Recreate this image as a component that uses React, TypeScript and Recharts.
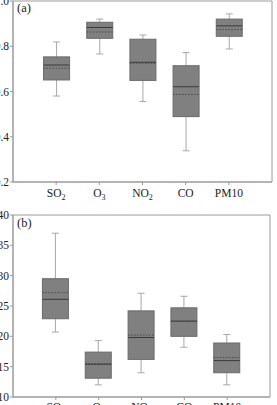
import {FunctionComponent} from 'react';
import {ComposedChart, Bar, XAxis, YAxis, ReferenceArea} from 'recharts';

// category labels, split into main text and subscript
const labelMain = ['SO', 'O', 'NO', 'CO', 'PM10'];
const labelSub = ['2', '3', '2', '', ''];
const positions = [1, 2, 3, 4, 5];

// panel (a)
const aMin = [0.58, 0.766, 0.556, 0.338, 0.788];
const aQ1 = [0.651, 0.835, 0.649, 0.489, 0.844];
const aMedian = [0.717, 0.883, 0.729, 0.621, 0.89];
const aMean = [0.703, 0.863, 0.725, 0.587, 0.874];
const aQ3 = [0.753, 0.906, 0.831, 0.714, 0.92];
const aMax = [0.819, 0.92, 0.85, 0.772, 0.943];
const aTicks = [0.2, 0.4, 0.6, 0.8, 1.0];

// panel (b)
const bMin = [20.7, 12.0, 14.0, 18.2, 12.0];
const bQ1 = [22.9, 13.1, 16.2, 20.0, 14.0];
const bMedian = [26.1, 15.4, 19.8, 22.5, 16.0];
const bMean = [27.2, 15.5, 20.2, 22.5, 16.5];
const bQ3 = [29.5, 17.4, 24.2, 24.7, 18.9];
const bMax = [37.0, 19.3, 27.1, 26.6, 20.3];
const bTicks = [10, 15, 20, 25, 30, 35, 40];

const serif = 'Liberation Serif, Times New Roman, Times, serif';
const frame = '#9a9a9a';

type Row = {pos: number; min: number; q1: number; median: number; mean: number; q3: number; max: number};

const rows = (mn: number[], q1: number[], md: number[], me: number[], q3: number[], mx: number[]): Row[] =>
  positions.map((pos, i) => ({pos, min: mn[i], q1: q1[i], median: md[i], mean: me[i], q3: q3[i], max: mx[i]}));

const PollutantTick = (props: any) => {
  const {x, y, payload, shift} = props;
  const i = positions.indexOf(payload.value);
  if (i < 0) return null;
  return (
    <text x={x} y={y} dy={shift} textAnchor="middle" fontFamily={serif} fontSize={11.5} fill="#222">
      {labelMain[i]}
      {labelSub[i] && <tspan fontSize={8} dy={2.5}>{labelSub[i]}</tspan>}
    </text>
  );
};

const BoxShape = (props: any) => {
  const {x, y, width, height, payload} = props;
  const {min, q1, median, mean, q3, max} = payload as Row;
  const top = Math.min(y, y + height);
  const bottom = Math.max(y, y + height);
  const py = (v: number) => bottom - ((v - min) / (max - min)) * (bottom - top);
  const cx = x + width / 2;
  const cap = 3.5;
  return (
    <g>
      <line x1={cx} x2={cx} y1={py(max)} y2={py(q3)} stroke="#a8a8a8" />
      <line x1={cx} x2={cx} y1={py(q1)} y2={py(min)} stroke="#a8a8a8" />
      <line x1={cx - cap} x2={cx + cap} y1={py(max)} y2={py(max)} stroke="#a8a8a8" />
      <line x1={cx - cap} x2={cx + cap} y1={py(min)} y2={py(min)} stroke="#a8a8a8" />
      <rect x={x} y={py(q3)} width={width} height={py(q1) - py(q3)} fill="#808080" stroke="#6a6a6a" />
      <line x1={x} x2={x + width} y1={py(median)} y2={py(median)} stroke="#3a3a3a" />
      <line x1={x} x2={x + width} y1={py(mean)} y2={py(mean)} stroke="#4a4a4a" strokeDasharray="1.5 1.5" />
    </g>
  );
};

const Panel = (p: {data: Row[]; domain: [number, number]; ticks: number[]; fmt: (v: number) => string; height: number; top: number; right: number; xTop: number; shift: number}) => (
  <ComposedChart width={307} height={p.height} data={p.data} margin={{top: p.top, right: p.right, bottom: 0, left: 0}}>
    <ReferenceArea x1={0} x2={6} y1={p.domain[0]} y2={p.domain[1]} fill="none" stroke={frame} strokeWidth={1} />
    <XAxis
      dataKey="pos"
      type="number"
      domain={[0, 6]}
      ticks={positions}
      height={p.xTop}
      tickSize={3}
      tickMargin={3}
      axisLine={{stroke: frame}}
      tickLine={{stroke: frame}}
      tick={<PollutantTick shift={p.shift} />}
      interval={0}
    />
    <YAxis
      type="number"
      domain={p.domain}
      ticks={p.ticks}
      width={43}
      tickSize={3}
      tickMargin={1}
      tickFormatter={p.fmt}
      axisLine={{stroke: frame}}
      tickLine={{stroke: frame}}
      tick={{fontFamily: serif, fontSize: 11.5, fill: '#222'}}
      interval={0}
    />
    <Bar dataKey={(d: Row) => [d.min, d.max]} barSize={26} shape={<BoxShape />} isAnimationActive={false} />
  </ComposedChart>
);

export default (() => (
  <div style={{position: 'fixed', left: 0, top: 0, width: 277, height: 405, overflow: 'hidden', background: '#fff'}}>
    <div style={{position: 'absolute', left: -30, top: 0}}>
      <Panel data={rows(aMin, aQ1, aMedian, aMean, aQ3, aMax)} domain={[0.2, 1.0]} ticks={aTicks}
        fmt={(v) => v.toFixed(1)} height={200} top={1} right={5} xTop={18} shift={9} />
    </div>
    <div style={{position: 'absolute', left: -30, top: 200}}>
      <Panel data={rows(bMin, bQ1, bMedian, bMean, bQ3, bMax)} domain={[10, 40]} ticks={bTicks}
        fmt={(v) => String(v)} height={220} top={15} right={7} xTop={23} shift={7.5} />
    </div>
    <div style={{position: 'absolute', left: 17, top: 1, fontFamily: serif, fontSize: 12.5, color: '#222'}}>(a)</div>
    <div style={{position: 'absolute', left: 17, top: 216, fontFamily: serif, fontSize: 12.5, color: '#222'}}>(b)</div>
  </div>
)) satisfies FunctionComponent;
